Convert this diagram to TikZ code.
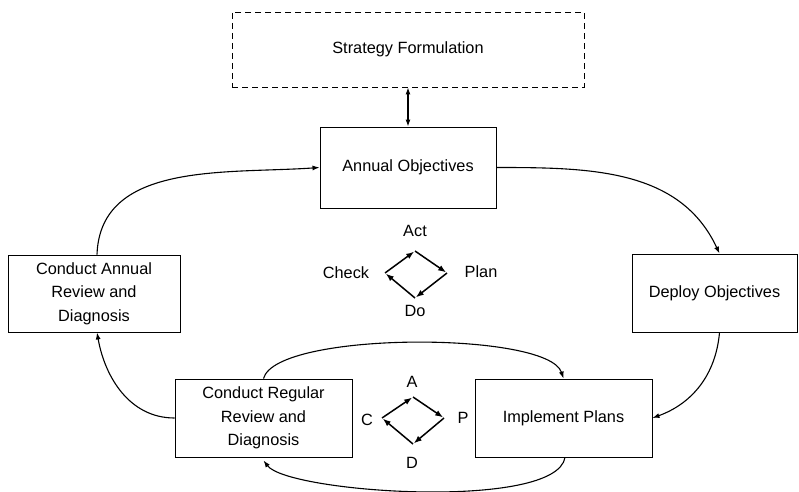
\documentclass[tikz,border=0pt]{standalone}
\usepackage{fontspec}
\setmainfont{Liberation Sans}
\usetikzlibrary{arrows.meta}
\begin{document}
\begin{tikzpicture}[x=1pt,y=1pt,
  box/.style={draw, line width=0.9pt, align=center, inner sep=0pt, fill=white,
    font=\fontsize{16.3}{23.3}\selectfont},
  lbl/.style={inner sep=0pt, font=\fontsize{16.3}{19}\selectfont},
  conn/.style={line width=1.1pt, -{Latex[length=7pt,width=5pt]}},
  dconn/.style={line width=1.1pt, {Latex[length=7pt,width=5pt]}-{Latex[length=7pt,width=5pt]}},
  pdca/.style={line width=1.5pt, -{Latex[length=8pt,width=6pt]}, shorten >=1pt}]
\useasboundingbox (0,0) rectangle (799,491);

% boxes
\node[box, dashed, dash pattern=on 6pt off 4pt, minimum width=352pt, minimum height=75pt] (SF) at (408,441.5) {Strategy Formulation};
\node[box, minimum width=176pt, minimum height=81pt] (AO) at (408,323.5) {Annual Objectives};
\node[box, minimum width=172pt, minimum height=77pt] (CA) at (94,197.5) {\raisebox{-1.5pt}{\parbox{170pt}{\centering Conduct Annual\\Review and\\Diagnosis}}};
\node[box, minimum width=165pt, minimum height=78pt] (DO) at (714.5,198) {Deploy Objectives};
\node[box, minimum width=177pt, minimum height=78pt] (CR) at (263.5,73) {\raisebox{-2.5pt}{\parbox{175pt}{\centering Conduct Regular\\Review and\\Diagnosis}}};
\node[box, minimum width=177pt, minimum height=78pt] (IP) at (563.5,73) {Implement Plans};

% connectors between boxes
\draw[dconn] (SF.south) -- (AO.north);
\draw[conn] ([xshift=3pt]CA.north) to[out=88,in=184] (AO.west);
\draw[conn] (AO.east) to[out=0,in=115] ([xshift=5pt]DO.north);
\draw[conn] ([xshift=5pt]DO.south) to[out=-95,in=20] (IP.east);
\draw[conn] ([xshift=1.5pt]IP.south) .. controls (556,-20) and (288,-2) .. ([yshift=-3pt]CR.south);
\draw[conn] (CR.north) .. controls (276,160) and (548,160) .. (IP.north);
\draw[conn] (CR.west) to[out=180,in=-80] ([xshift=3pt]CA.south);

% large PDCA diamond
\coordinate (At) at (415,240);
\coordinate (Ar) at (447,218);
\coordinate (Ab) at (415,193);
\coordinate (Al) at (385,218);
\draw[pdca] (Al) -- (At);
\draw[pdca] (At) -- (Ar);
\draw[pdca] (Ar) -- (Ab);
\draw[pdca] (Ab) -- (Al);
\node[lbl] (act) at (415,260) {Act};
\node[lbl] (plan) at (481,219) {Plan};
\node[lbl] (do) at (415,180) {Do};
\node[lbl] (check) at (346,218) {Check};

% small PDCA diamond
\coordinate (Bt) at (413,94);
\coordinate (Br) at (444,73);
\coordinate (Bb) at (413,47);
\coordinate (Bl) at (382,73);
\draw[pdca] (Bl) -- (Bt);
\draw[pdca] (Bt) -- (Br);
\draw[pdca] (Br) -- (Bb);
\draw[pdca] (Bb) -- (Bl);
\node[lbl] (a) at (412,109) {A};
\node[lbl] (p) at (463,73) {P};
\node[lbl] (d) at (412,28) {D};
\node[lbl] (c) at (367,71) {C};
\end{tikzpicture}
\end{document}
